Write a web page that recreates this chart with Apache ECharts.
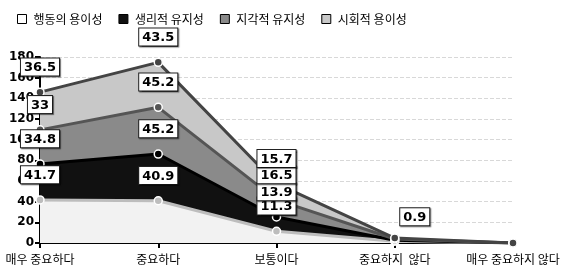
<!DOCTYPE html>
<html>
<head>
<meta charset="utf-8">
<script src="https://cdn.jsdelivr.net/npm/echarts@6/dist/echarts.min.js"></script>
<style>
  html, body { margin: 0; padding: 0; background: #fff; }
  #chart { width: 571px; height: 272px; }
</style>
</head>
<body>
<div id="chart"></div>
<script>
// 응답 범주
const categories = ['매우 중요하다', '중요하다', '보통이다', '중요하지  않다', '매우 중요하지 않다']
const seriesNames = ['행동의 용이성', '생리적 유지성', '지각적 유지성', '시회적 용이성']

// 그림에서 읽은 값 (누적 영역)
const easeOfAction = [41.7, 40.9, 11.3, 1.7, 0]
const physioKeep = [34.8, 45.2, 13.9, 0.9, 0]
const perceptKeep = [33, 45.2, 16.5, 1.3, 0]
const socialEase = [36.5, 43.5, 15.7, 0.9, 0]

const yTicks = { min: 0, max: 180, step: 20 }

const values = [easeOfAction, physioKeep, perceptKeep, socialEase]
const fills = ['#f2f2f2', '#111111', '#8a8a8a', '#c8c8c8']
const lines = ['#bdbdbd', '#000000', '#555555', '#444444']
// 중요하지 않다 위치에서는 라벨이 겹쳐 맨 위 계열만 보임
const crowdedIndex = 3
const topSeries = 3

const chart = echarts.init(document.getElementById('chart'))

const series = values.map((vals, si) => ({
  name: seriesNames[si],
  type: 'line',
  stack: 'total',
  data: vals.map((v, i) => {
    const item = { value: v, label: { show: v !== 0 && (i !== crowdedIndex || si === topSeries) } }
    if (i === crowdedIndex) item.label.offset = [20, 4]
    return item
  }),
  symbol: 'circle',
  symbolSize: 8,
  showAllSymbol: true,
  itemStyle: { color: lines[si], borderColor: '#fff', borderWidth: 1.5 },
  lineStyle: { width: 3, color: lines[si] },
  areaStyle: { color: fills[si], opacity: 1 },
  label: {
    show: true,
    position: 'top',
    distance: 12,
    color: '#000',
    fontWeight: 'bold',
    fontSize: 13,
    fontFamily: 'DejaVu Sans',
    backgroundColor: '#fff',
    borderColor: '#222',
    borderWidth: 1,
    padding: [3, 3, 1, 3],
    shadowColor: 'rgba(0,0,0,0.5)',
    shadowOffsetX: 1,
    shadowOffsetY: 1,
    shadowBlur: 1
  }
}))

chart.setOption({
  backgroundColor: '#fff',
  animation: false,
  legend: {
    left: 12,
    top: 8,
    itemWidth: 9,
    itemHeight: 9,
    itemGap: 16,
    icon: 'rect',
    textStyle: { color: '#000', fontSize: 12, fontFamily: 'Noto Sans CJK KR', padding: [0, 0, 0, 2] },
    data: seriesNames.map((n, i) => ({
      name: n,
      itemStyle: { color: i === 0 ? '#fff' : fills[i], borderColor: '#000', borderWidth: 1 }
    }))
  },
  grid: { left: 40, right: 58, top: 57, bottom: 29 },
  xAxis: {
    type: 'category',
    data: categories,
    boundaryGap: false,
    axisLine: { lineStyle: { color: '#000', width: 2 } },
    axisTick: { show: true, alignWithLabel: true, length: 5, lineStyle: { color: '#000', width: 2 } },
    axisLabel: { color: '#000', fontSize: 12, fontFamily: 'Noto Sans CJK KR', margin: 10, interval: 0 },
    splitLine: { show: false }
  },
  yAxis: {
    type: 'value',
    min: yTicks.min,
    max: yTicks.max,
    interval: yTicks.step,
    axisLine: { show: true, lineStyle: { color: '#000', width: 2 } },
    axisTick: { show: true, length: 5, lineStyle: { color: '#000', width: 2 } },
    axisLabel: { color: '#000', fontSize: 12, fontWeight: 'bold', fontFamily: 'DejaVu Sans', margin: 6 },
    splitLine: { show: true, lineStyle: { color: '#d8d8d8', type: 'dashed', width: 1 } }
  },
  series: series
})
</script>
</body>
</html>
